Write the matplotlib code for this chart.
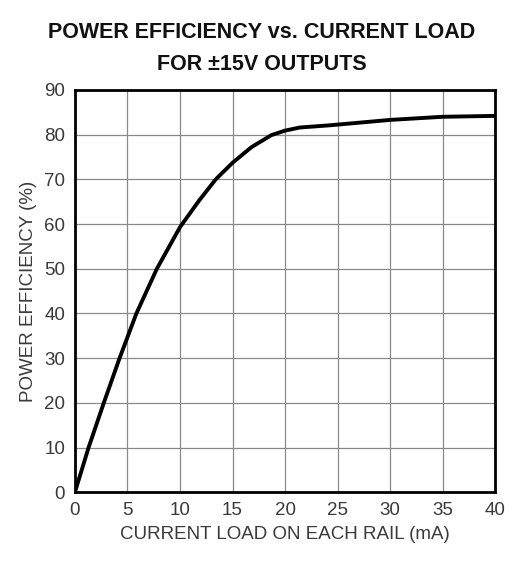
import matplotlib.pyplot as plt
import numpy as np

# data
load_ma = [0, 1.3, 2.75, 4.25, 5.85, 7.8, 10, 11.8, 13.4, 15, 16.8, 18.7, 20, 21.4, 24.3, 30, 35, 40]
efficiency = [0, 10, 20, 30, 40, 50, 59.3, 65.2, 70, 73.7, 77.2, 79.9, 80.9, 81.6, 82.1, 83.3, 84, 84.2]
x_ticks = [0, 5, 10, 15, 20, 25, 30, 35, 40]
y_ticks = [0, 10, 20, 30, 40, 50, 60, 70, 80, 90]

plt.rcParams['font.family'] = ['Liberation Sans', 'DejaVu Sans']

fig = plt.figure(figsize=(5.24, 5.73), dpi=100)
ax = fig.add_axes([0.143, 0.141, 0.802, 0.702])

ax.plot(load_ma, efficiency, color='black', linewidth=2.8,
        solid_capstyle='round', solid_joinstyle='round')
ax.set_xlim(0, 40)
ax.set_ylim(0, 90)
ax.set_xticks(x_ticks)
ax.set_yticks(y_ticks)
ax.grid(True, color='#8a8a8a', linewidth=0.9)
ax.tick_params(length=0, labelsize=13.5, labelcolor='#3a3a3a', pad=7)
for s in ax.spines.values():
    s.set_linewidth(2)
    s.set_color('black')

ax.set_xlabel('CURRENT LOAD ON EACH RAIL (mA)', fontsize=13.5, color='#3a3a3a', labelpad=5)
ax.set_ylabel('POWER EFFICIENCY (%)', fontsize=13.5, color='#3a3a3a', labelpad=5)

fig.text(0.5, 0.944, 'POWER EFFICIENCY vs. CURRENT LOAD', ha='center', va='center',
         fontsize=15.5, fontweight='bold', color='#111111')
fig.text(0.5, 0.888, 'FOR \u00b115V OUTPUTS', ha='center', va='center',
         fontsize=15.5, fontweight='bold', color='#111111')

fig.savefig('out.png', dpi=100)
